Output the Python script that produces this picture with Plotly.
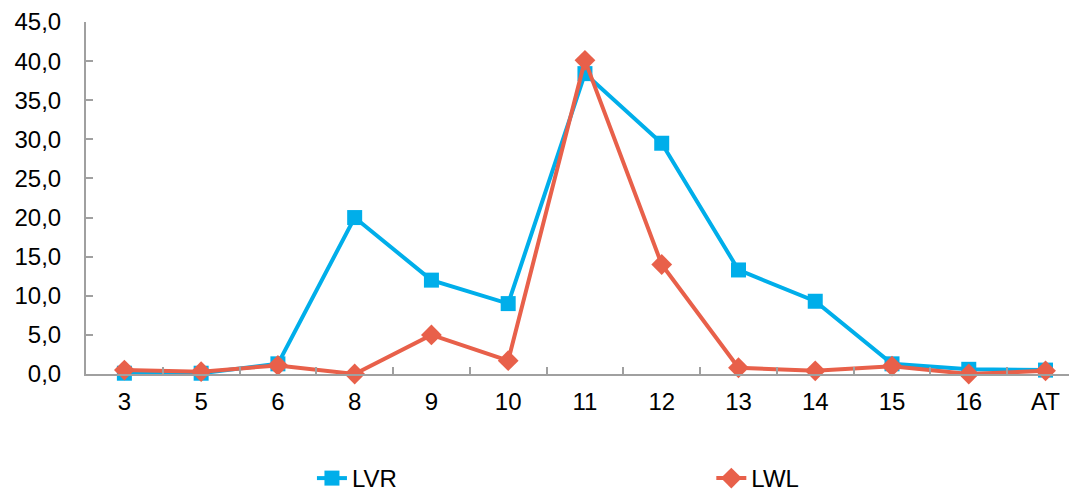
import plotly.graph_objects as go

categories = ["3", "5", "6", "8", "9", "10", "11", "12", "13", "14", "15", "16", "AT"]
lvr = [0.1, 0.1, 1.3, 20.0, 12.0, 9.0, 38.4, 29.5, 13.3, 9.3, 1.3, 0.6, 0.5]
lwl = [0.5, 0.3, 1.1, 0.0, 5.0, 1.7, 40.1, 14.0, 0.8, 0.4, 1.0, 0.0, 0.4]

blue = "#00AEEA"
red = "#E8604A"

fig = go.Figure()
fig.add_trace(go.Scatter(x=categories, y=lvr, name="LVR", mode="lines+markers",
                         line=dict(color=blue, width=4),
                         marker=dict(symbol="square", size=15, color=blue),
                         cliponaxis=False, legend="legend"))
fig.add_trace(go.Scatter(x=categories, y=lwl, name="LWL", mode="lines+markers",
                         line=dict(color=red, width=4),
                         marker=dict(symbol="diamond", size=16, color=red),
                         cliponaxis=False, legend="legend2"))

legend_common = dict(orientation="h", yref="container", y=-0.02, yanchor="bottom",
                     xanchor="left", font=dict(size=24), bgcolor="rgba(0,0,0,0)")

fig.update_layout(
    width=1069, height=493,
    margin=dict(l=78, r=0, t=14, b=127),
    paper_bgcolor="white", plot_bgcolor="white",
    separators=",.",
    font=dict(family="Liberation Sans, Arial, sans-serif", size=24, color="#000000"),
    showlegend=True,
    legend=dict(x=0.228, **legend_common),
    legend2=dict(x=0.631, **legend_common),
    xaxis=dict(type="category", range=[-0.5, 12.41], showgrid=False, zeroline=False,
               showline=True, linecolor="#A0A0A0", linewidth=2,
               ticks="inside", tickson="boundaries", ticklen=7, tickcolor="#A0A0A0",
               tickwidth=1.5, tickfont=dict(size=24), ticklabelstandoff=5),
    yaxis=dict(range=[0, 45], dtick=5, tickformat=".1f", showgrid=False, zeroline=False,
               showline=True, linecolor="#A0A0A0", linewidth=2,
               ticks="inside", ticklen=7, tickcolor="#A0A0A0", tickwidth=1.5,
               tickfont=dict(size=24), ticklabelstandoff=18),
)

fig.write_html("out.html")
